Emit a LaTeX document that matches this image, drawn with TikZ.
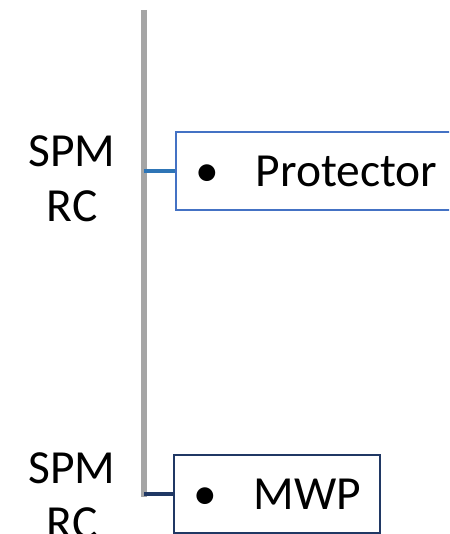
\documentclass[tikz,border=0pt]{standalone}
\usepackage{fontspec}
\setmainfont{Carlito}
\usepackage{tikz}
\usetikzlibrary{calc}
\definecolor{spine}{HTML}{A5A5A5}
\definecolor{protblue}{HTML}{4472C4}
\definecolor{protlink}{HTML}{2E75B6}
\definecolor{mwpnavy}{HTML}{203864}

\begin{document}
\begin{tikzpicture}[
  bigtext/.style={font=\fontsize{47.5}{55}\selectfont},
  itembox/.style={shape = rectangle, bigtext, anchor=west, minimum height = 78pt,
                  inner xsep=20pt, align=left, line width=1.5pt, fill=white},
  sidelabel/.style={bigtext, align=center}
]
\useasboundingbox (0pt,0pt) rectangle (449pt,-534pt);
\clip (0pt,0pt) rectangle (449pt,-534pt);
% grey spine
\coordinate (spinetop) at (144pt,-10pt);
\coordinate (spinebot) at (144pt,-497pt);
\draw[line width=5.5pt, draw=spine] (spinetop) -- (spinebot);
% boxes
\node[itembox, draw=protblue, text width=280pt] (prot) at (175pt,-171pt) {\makebox[60pt][l]{•}Protector};
\node[itembox, draw=mwpnavy, text width=166pt] (mwp) at (173pt,-494pt) {\makebox[60pt][l]{•}MWP};
% links to spine
\draw[line width=4pt, draw=protlink] (prot.west) -- (prot.west -| spinetop);
\draw[line width=4pt, draw=mwpnavy] (mwp.west) -- (mwp.west -| spinebot);
% labels
\node[sidelabel] (lblprot) at (72pt,-179pt) {SPM\\RC};
\node[sidelabel] (lblmwp) at (72pt,-496pt) {SPM\\RC};
\end{tikzpicture}
\end{document}
